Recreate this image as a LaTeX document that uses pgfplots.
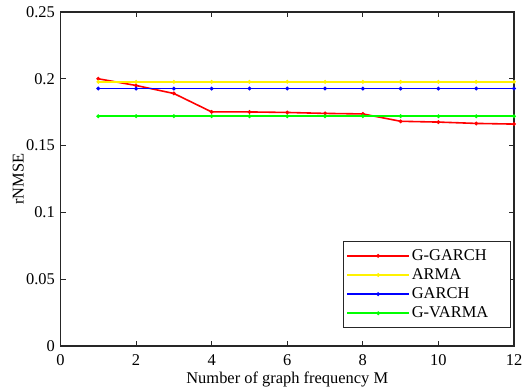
\documentclass[border=0pt]{standalone}
\usepackage{fontspec}
\setmainfont{Liberation Serif}
\usepackage{pgfplots}
\pgfplotsset{compat=1.18}
\newcommand{\chartfont}{\fontsize{16.5}{19}\selectfont}
\begin{document}
\chartfont
\begin{tikzpicture}
\useasboundingbox (-60.5bp,-43bp) rectangle (461.5bp,346bp);
\begin{axis}[
  at={(0,0)}, anchor=south west,
  scale only axis, width=453.5bp, height=334bp,
  xmin=0, xmax=12, ymin=0, ymax=0.25,
  xtick={0,2,...,12}, ytick={0,0.05,0.1,0.15,0.2,0.25},
  yticklabels={0,0.05,0.1,0.15,0.2,0.25},
  tick align=inside, major tick length=5bp,
  axis line style={line width=1.1pt, black!85},
  every tick/.style={line width=1.1pt, black!85},
  tick label style={font=\chartfont},
  xticklabel style={yshift=-3bp},
  /pgf/number format/assume math mode=true,
  xlabel={Number of graph frequency M},
  ylabel={rNMSE},
  label style={font=\chartfont},
  xlabel style={yshift=5bp},
  ylabel style={yshift=-9bp},
  legend style={at={(0.993,0.054)}, anchor=south east, draw=black!85,
    line width=1.1pt, font=\chartfont,
    inner xsep=3pt, inner ysep=5.5pt, row sep=1.8pt, cells={anchor=west}},
  legend image code/.code={
    \draw[#1, line width=1.6pt, mark repeat=2, mark phase=2]
      plot coordinates {(0cm,0cm) (1.09cm,0cm) (2.18cm,0cm)};
  },
  series/.style={line width=1.6pt, mark=*, mark size=1pt},
]
\addplot[red, series] coordinates {
  (1,0.2000) (2,0.1950) (3,0.1890) (4,0.1752) (5,0.1752) (6,0.1748)
  (7,0.1741) (8,0.1737) (9,0.1682) (10,0.1676) (11,0.1666) (12,0.1661)
};
\addlegendentry{G-GARCH}
\addplot[yellow, series] coordinates {
  (1,0.1977) (2,0.1977) (3,0.1977) (4,0.1977) (5,0.1977) (6,0.1977)
  (7,0.1977) (8,0.1977) (9,0.1977) (10,0.1977) (11,0.1977) (12,0.1977)
};
\addlegendentry{ARMA}
\addplot[blue, series] coordinates {
  (1,0.1927) (2,0.1927) (3,0.1927) (4,0.1927) (5,0.1927) (6,0.1927)
  (7,0.1927) (8,0.1927) (9,0.1927) (10,0.1927) (11,0.1927) (12,0.1927)
};
\addlegendentry{GARCH}
\addplot[green, series] coordinates {
  (1,0.1720) (2,0.1720) (3,0.1720) (4,0.1720) (5,0.1720) (6,0.1720)
  (7,0.1720) (8,0.1720) (9,0.1720) (10,0.1720) (11,0.1720) (12,0.1720)
};
\addlegendentry{G-VARMA\kern17bp\mbox{}}
\end{axis}
\end{tikzpicture}
\end{document}
